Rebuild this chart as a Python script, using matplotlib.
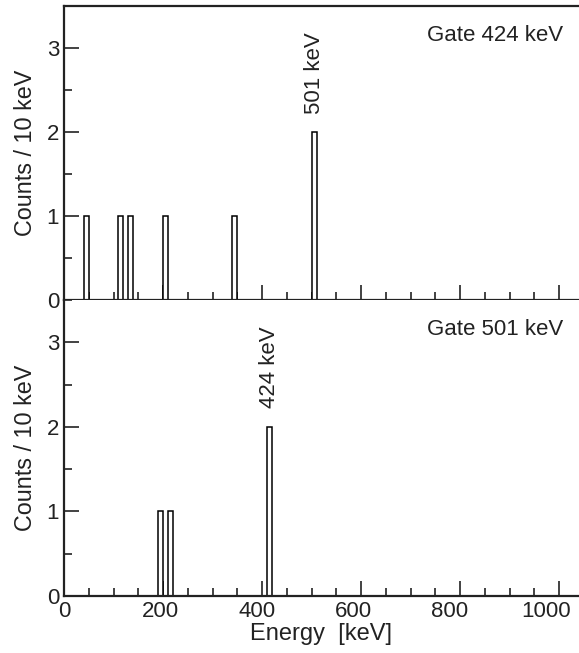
import matplotlib
matplotlib.use("Agg")
import matplotlib.pyplot as plt
import matplotlib.transforms as mtransforms
from matplotlib.ticker import MultipleLocator

plt.rcParams['font.family'] = ['Liberation Sans', 'DejaVu Sans']

# histogram data, 10 keV bins (left edges)
bin_width = 10
gate424_edges = [40, 110, 130, 200, 340, 500]
gate424_counts = [1, 1, 1, 1, 1, 2]
gate501_edges = [190, 210, 410]
gate501_counts = [1, 1, 2]

panels = [
    ("Gate 424 keV", gate424_edges, gate424_counts, "501 keV", 500),
    ("Gate 501 keV", gate501_edges, gate501_counts, "424 keV", 410),
]

fig = plt.figure(figsize=(5.79, 6.53), dpi=100)
left = 64 / 579
ax_top = fig.add_axes([left, 1 - 300 / 653, 1 - left, 294 / 653])
ax_bot = fig.add_axes([left, 1 - 596 / 653, 1 - left, 296 / 653])

fs = 16
for ax, (gate, edges, counts, peak, peak_edge) in zip([ax_top, ax_bot], panels):
    ax.bar(edges, counts, width=bin_width, align='edge', facecolor='white',
           edgecolor='black', linewidth=1.1, zorder=2)
    ax.set_xlim(0, 1040)
    ax.set_ylim(0, 3.5)
    ax.xaxis.set_major_locator(MultipleLocator(200))
    ax.xaxis.set_minor_locator(MultipleLocator(50))
    ax.yaxis.set_major_locator(MultipleLocator(1))
    ax.yaxis.set_minor_locator(MultipleLocator(0.5))
    ax.tick_params(which='both', direction='in', width=1.2, labelsize=fs,
                   top=False, right=False, colors='#222222')
    ax.tick_params(which='major', length=10.5)
    ax.tick_params(which='minor', length=5.5)
    ax.spines['right'].set_visible(False)
    for s in ['left', 'bottom', 'top']:
        ax.spines[s].set_linewidth(1.6)
        ax.spines[s].set_color('#222222')
    ax.set_ylabel("Counts / 10 keV", fontsize=16.8, labelpad=7, color='#222222')
    ax.text(0.97, 0.90, gate, transform=ax.transAxes, ha='right', va='center',
            fontsize=fs, color='#222222')
    ax.text(peak_edge + bin_width / 2, 2.22, peak, rotation=90, ha='center',
            va='bottom', fontsize=fs, color='#222222')

ax_top.tick_params(labelbottom=False)
ax_bot.spines['top'].set_visible(False)
ax_bot.set_xlabel("Energy  [keV]", fontsize=17, labelpad=1, color='#222222')

# tick labels in the original sit slightly left of their ticks toward the right
fig.canvas.draw()
for val, lab in zip(ax_bot.get_xticks(), ax_bot.get_xticklabels()):
    shift = mtransforms.ScaledTranslation(-0.013 * val / 100, 0, fig.dpi_scale_trans)
    lab.set_transform(lab.get_transform() + shift)

fig.savefig("out.png", dpi=100)
